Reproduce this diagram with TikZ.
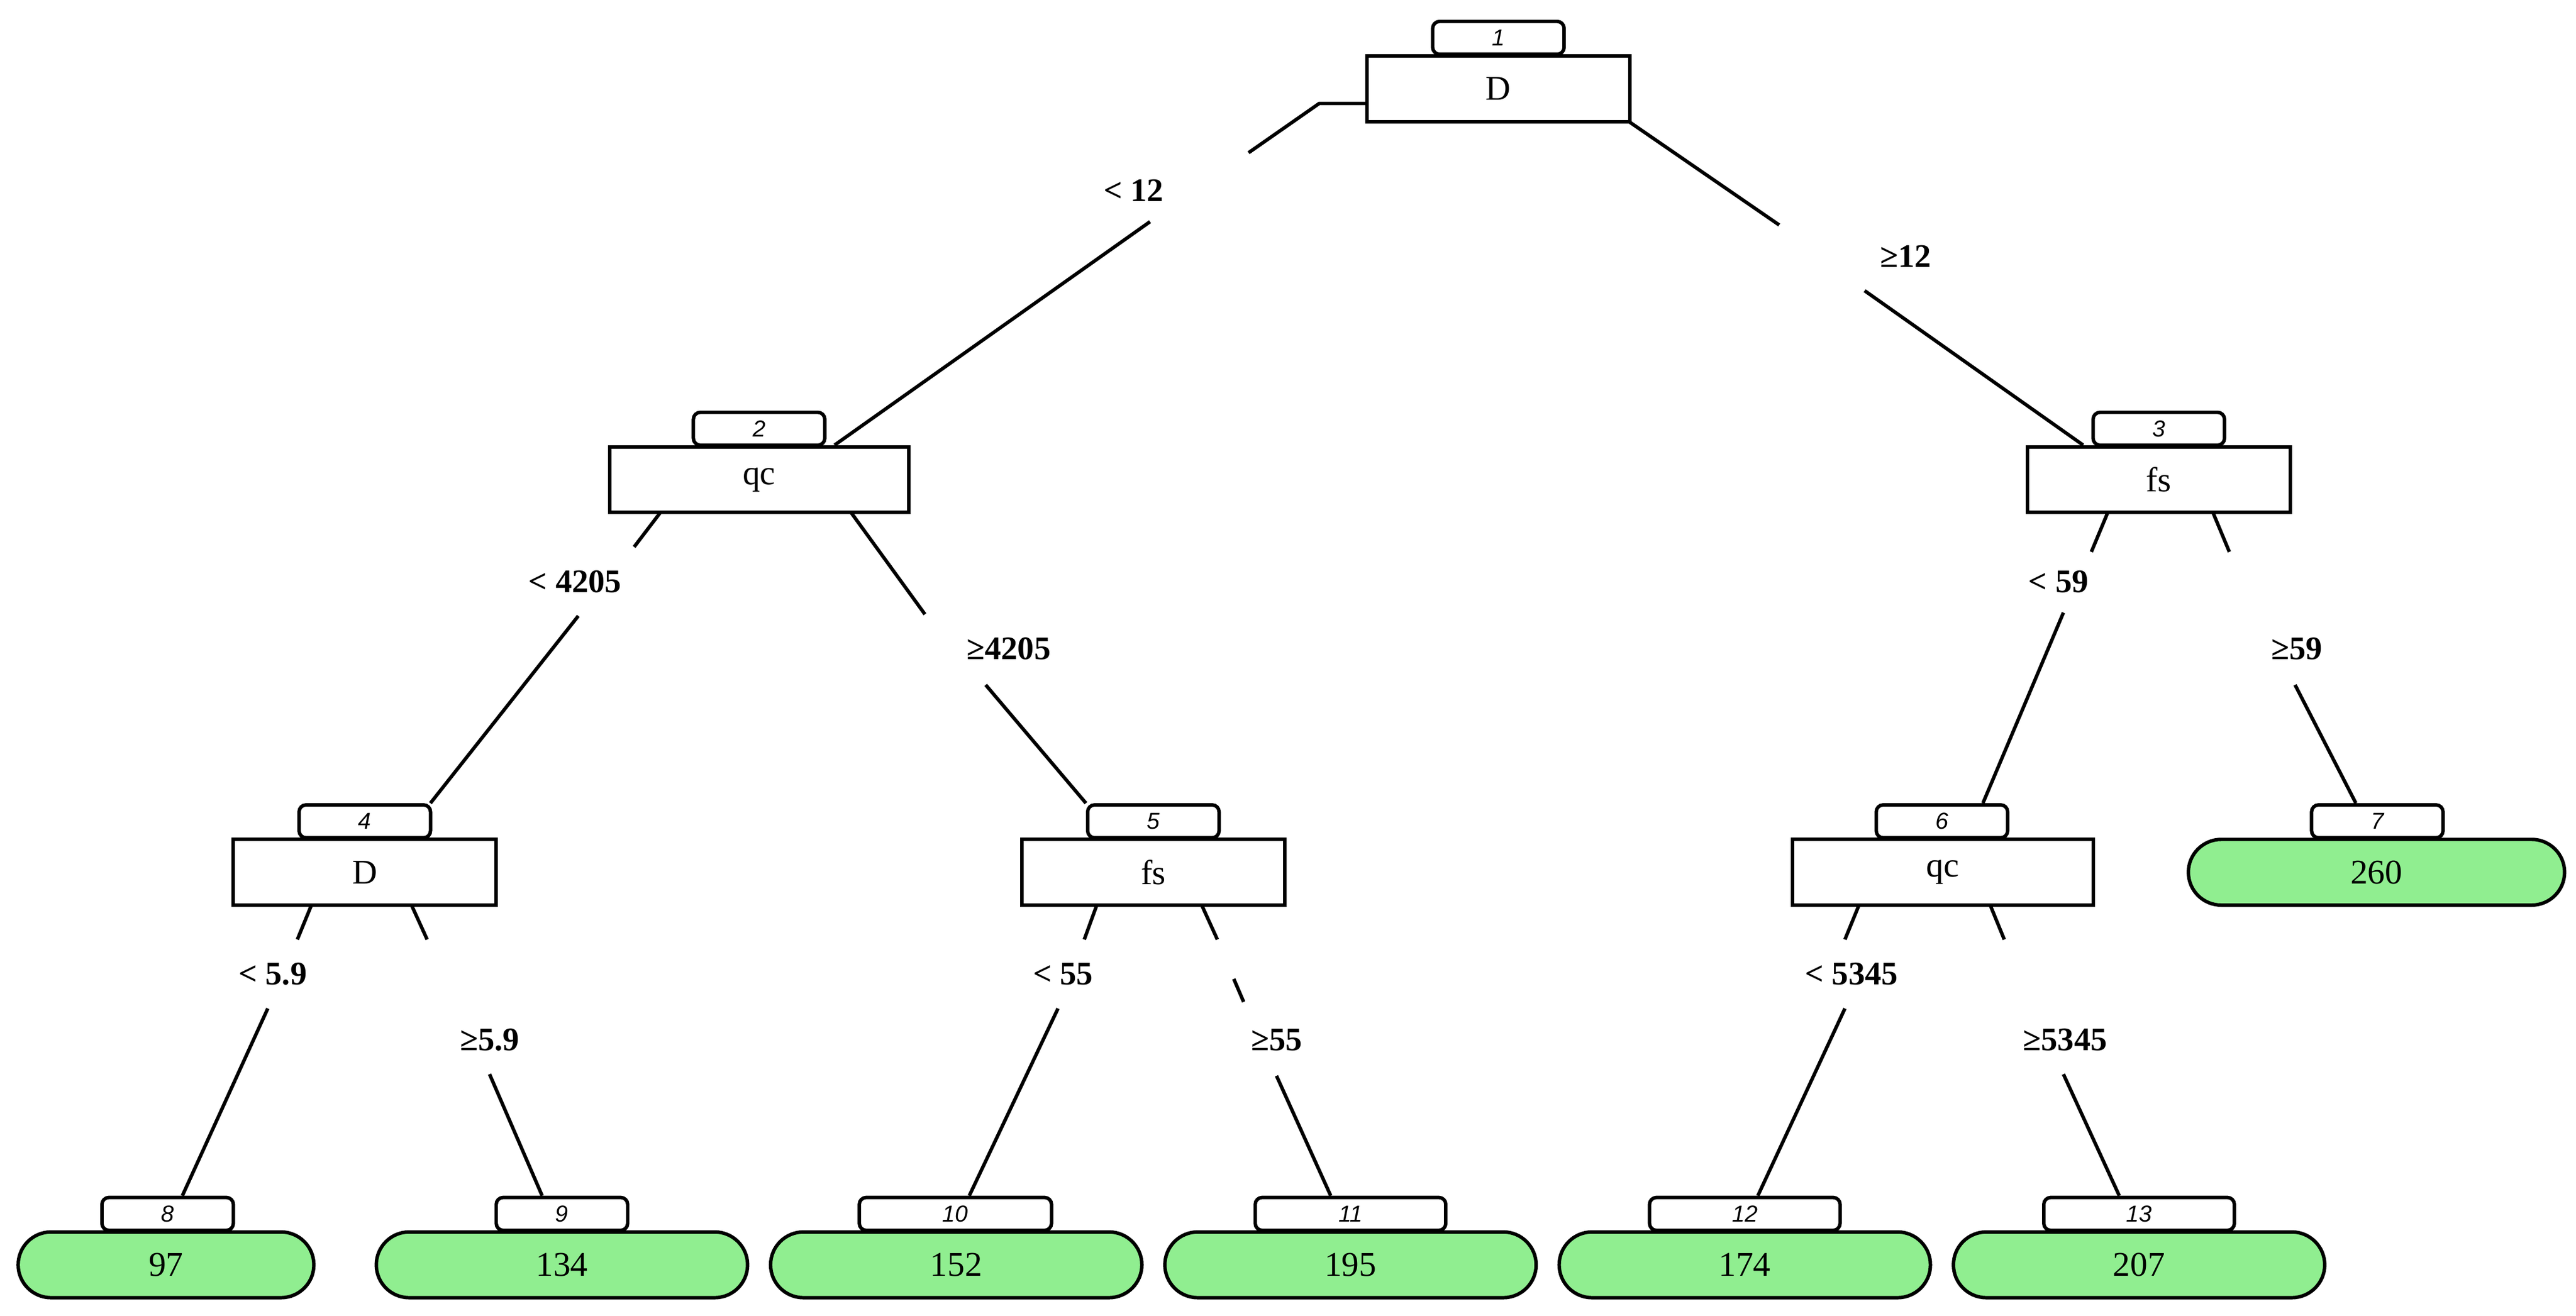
\documentclass[tikz,border=0pt]{standalone}
\usepackage{fontspec}
\setmainfont{Liberation Serif}
\newfontfamily\numfont{Liberation Sans}
\begin{document}
\begin{tikzpicture}[x=0.01cm,y=-0.01cm,line width=0.6pt,
  mainbox/.style={draw,fill=white,rectangle,font=\fontsize{6}{7}\selectfont},
  numbox/.style={draw,fill=white,rounded corners=1.2pt,font=\numfont\itshape\fontsize{4}{5}\selectfont},
  leafbox/.style={draw,fill=green!45!white!90!black,rounded corners=0.2cm,font=\fontsize{6}{7}\selectfont},
  elabel/.style={font=\bfseries\fontsize{5.7}{7}\selectfont}]
\definecolor{leafg}{RGB}{144,238,144}
\useasboundingbox (0,0) rectangle (1568,801);
% box helper
\newcommand{\tnode}[8]{% name, x1, x2, y1(label top), lx1, lx2, style, text
  \node[numbox,minimum width={(#6-#5)*0.01cm},minimum height=0.2cm,anchor=north west,inner sep=0pt] (#1n) at (#5,#4) {#1};
  \node[#7,minimum width={(#3-#2)*0.01cm},minimum height=0.4cm,anchor=north west,inner sep=0pt] (#1) at (#2,#4+21) {#8};}
% edges first
\coordinate (e1a) at (831,63); \coordinate (e1b) at (803,63); \coordinate (e1c) at (760,93);
\coordinate (e1d) at (700,135); \coordinate (e1e) at (508,271);
\draw (e1a) -- (e1b) -- (e1c); \draw (e1d) -- (e1e);
\coordinate (e2a) at (990,73); \coordinate (e2b) at (1083,137); \coordinate (e2c) at (1135,177); \coordinate (e2d) at (1268,271);
\draw (e2a) -- (e2b); \draw (e2c) -- (e2d);
\coordinate (e3a) at (402,312); \coordinate (e3b) at (386,333); \coordinate (e3c) at (352,375); \coordinate (e3d) at (262,489);
\draw (e3a) -- (e3b); \draw (e3c) -- (e3d);
\coordinate (e4a) at (518,312); \coordinate (e4b) at (563,374); \coordinate (e4c) at (600,417); \coordinate (e4d) at (661,489);
\draw (e4a) -- (e4b); \draw (e4c) -- (e4d);
\coordinate (e5a) at (1283,312); \coordinate (e5b) at (1273,336); \coordinate (e5c) at (1256,373); \coordinate (e5d) at (1207,489);
\draw (e5a) -- (e5b); \draw (e5c) -- (e5d);
\coordinate (e6a) at (1347,312); \coordinate (e6b) at (1357,336); \coordinate (e6c) at (1397,417); \coordinate (e6d) at (1434,489);
\draw (e6a) -- (e6b); \draw (e6c) -- (e6d);
\coordinate (e7a) at (190,550); \coordinate (e7b) at (181,572); \coordinate (e7c) at (163,614); \coordinate (e7d) at (111,728);
\draw (e7a) -- (e7b); \draw (e7c) -- (e7d);
\coordinate (e8a) at (250,550); \coordinate (e8b) at (260,572); \coordinate (e8c) at (298,654); \coordinate (e8d) at (330,728);
\draw (e8a) -- (e8b); \draw (e8c) -- (e8d);
\coordinate (e9a) at (668,550); \coordinate (e9b) at (660,572); \coordinate (e9c) at (644,614); \coordinate (e9d) at (590,728);
\draw (e9a) -- (e9b); \draw (e9c) -- (e9d);
\coordinate (e10a) at (731,550); \coordinate (e10b) at (741,572); \coordinate (e10e) at (751,596); \coordinate (e10f) at (757,610); \coordinate (e10c) at (777,655); \coordinate (e10d) at (810,728);
\draw (e10a) -- (e10b); \draw (e10e) -- (e10f); \draw (e10c) -- (e10d);
\coordinate (e11a) at (1132,550); \coordinate (e11b) at (1123,572); \coordinate (e11c) at (1123,614); \coordinate (e11d) at (1070,728);
\draw (e11a) -- (e11b); \draw (e11c) -- (e11d);
\coordinate (e12a) at (1211,550); \coordinate (e12b) at (1220,572); \coordinate (e12c) at (1256,654); \coordinate (e12d) at (1290,728);
\draw (e12a) -- (e12b); \draw (e12c) -- (e12d);
% nodes
\tnode{1}{831}{991}{12}{871}{951}{mainbox}{D}
\tnode{2}{370}{552}{250}{421}{501}{mainbox}{qc}
\tnode{3}{1233}{1393}{250}{1273}{1353}{mainbox}{fs}
\tnode{4}{141}{301}{489}{181}{261}{mainbox}{D}
\tnode{5}{621}{781}{489}{661}{741}{mainbox}{fs}
\tnode{6}{1090}{1273}{489}{1141}{1221}{mainbox}{qc}
\tnode{7}{1331}{1560}{489}{1406}{1486}{leafbox,fill=leafg}{260}
\tnode{8}{10}{190}{728}{61}{141}{leafbox,fill=leafg}{97}
\tnode{9}{228}{454}{728}{301}{381}{leafbox,fill=leafg}{134}
\tnode{10}{468}{694}{728}{522}{639}{leafbox,fill=leafg}{152}
\tnode{11}{708}{934}{728}{763}{879}{leafbox,fill=leafg}{195}
\tnode{12}{948}{1174}{728}{1003}{1119}{leafbox,fill=leafg}{174}
\tnode{13}{1188}{1414}{728}{1243}{1359}{leafbox,fill=leafg}{207}
% edge labels
\node[elabel] (l1) at (690,116) {< 12};
\node[elabel] (l2) at (1160,156) {≥12};
\node[elabel] (l3) at (350,354) {< 4205};
\node[elabel] (l4) at (614,395) {≥4205};
\node[elabel] (l5) at (1253,354) {< 59};
\node[elabel] (l6) at (1398,395) {≥59};
\node[elabel] (l7) at (166,593) {< 5.9};
\node[elabel] (l8) at (298,633) {≥5.9};
\node[elabel] (l9) at (647,593) {< 55};
\node[elabel] (l10) at (777,633) {≥55};
\node[elabel] (l11) at (1127,593) {< 5345};
\node[elabel] (l12) at (1257,633) {≥5345};
\end{tikzpicture}
\end{document}
